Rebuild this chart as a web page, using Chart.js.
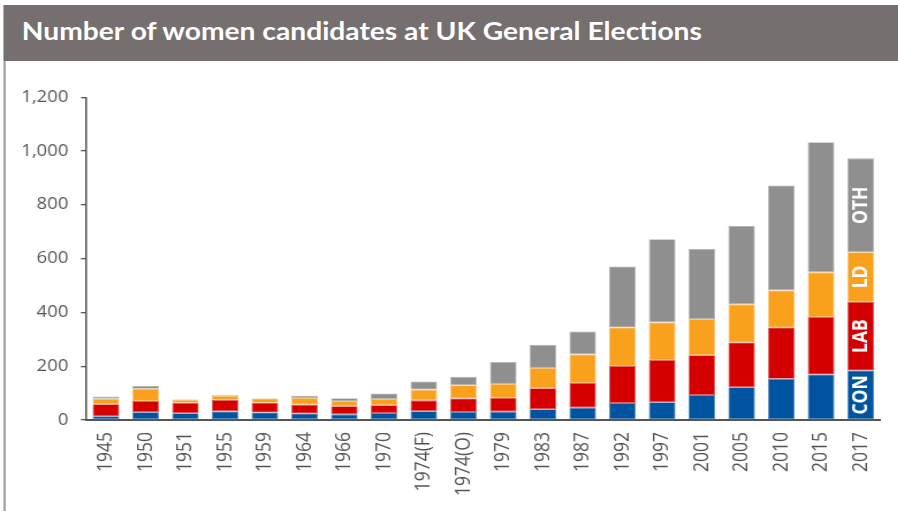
<!DOCTYPE html>
<html>
<head>
<meta charset="utf-8">
<script src="https://cdn.jsdelivr.net/npm/chart.js@4/dist/chart.umd.min.js"></script>
<style>
  html, body { margin: 0; padding: 0; background: #ffffff; overflow: hidden; }
  #stage { position: absolute; left: 0; top: 0; width: 780.87px; height: 511px; transform: scaleX(1.15); transform-origin: 0 0; }
  #titlebar { position: absolute; left: 2.6px; top: 5px; width: 800px; height: 56px; background: #75706f; }
  #title { position: absolute; left: 19px; top: 20px; margin: 0; font-family: "Lato", "Open Sans", sans-serif; font-weight: 700; font-size: 21px; line-height: 1; color: #ffffff; white-space: nowrap; }
  #leftline { position: absolute; left: 2.6px; top: 61px; width: 2.6px; height: 450px; background: #a3a3a3; }
  #chartbox { position: absolute; left: 0; top: 61px; width: 780.87px; height: 450px; }
</style>
</head>
<body>
<div id="stage">
  <div id="titlebar"></div>
  <div id="title">Number of women candidates at UK General Elections</div>
  <div id="leftline"></div>
  <div id="chartbox"><canvas id="c"></canvas></div>
</div>
<script>
// ---- data ----
const categories = ['1945','1950','1951','1955','1959','1964','1966','1970','1974(F)','1974(O)','1979','1983','1987','1992','1997','2001','2005','2010','2015','2017'];
const conValues = [14, 29, 25, 32, 28, 24, 21, 26, 33, 30, 31, 40, 46, 63, 66, 93, 122, 153, 169, 184];
const labValues = [45, 42, 39, 43, 36, 33, 30, 29, 40, 50, 52, 78, 92, 138, 157, 148, 166, 191, 214, 256];
const ldValues  = [20, 45, 11, 14, 16, 25, 20, 23, 40, 49, 51, 75, 106, 143, 140, 135, 142, 138, 166, 184];
const othValues = [8, 10, 2, 3, 1, 8, 10, 21, 30, 32, 82, 87, 85, 227, 309, 260, 291, 390, 484, 349];
const seriesNames = ['CON', 'LAB', 'LD', 'OTH'];
const yTicks = [0, 200, 400, 600, 800, 1000, 1200];

// fit title width to reference
const t = document.getElementById('title');
const targetW = 681 / 1.15;
const fs = 21 * targetW / t.scrollWidth;
t.style.fontSize = fs + 'px';
t.style.top = (41 - 0.9 * fs) + 'px';

const fills = ['#00539f', '#d40000', '#f9a11d', '#8f8f8f'];
const edges = ['#5585bd', '#e05a5a', '#fbc272', '#b4b4b4'];
const seriesData = [conValues, labValues, ldValues, othValues];

const segmentLabels = {
  id: 'segmentLabels',
  afterDatasetsDraw(chart) {
    const ctx = chart.ctx;
    const idx = categories.length - 1;
    ctx.save();
    ctx.fillStyle = '#ffffff';
    ctx.font = 'bold 17.5px "Open Sans", sans-serif';
    ctx.textAlign = 'center';
    ctx.textBaseline = 'middle';
    chart.data.datasets.forEach((ds, i) => {
      const el = chart.getDatasetMeta(i).data[idx];
      const p = el.getProps(['x', 'y', 'base'], true);
      ctx.save();
      ctx.translate(p.x + 0.5, (p.y + p.base) / 2);
      ctx.rotate(-Math.PI / 2);
      ctx.fillText(ds.label, 0, 0);
      ctx.restore();
    });
    ctx.restore();
  }
};

new Chart(document.getElementById('c'), {
  type: 'bar',
  data: {
    labels: categories,
    datasets: seriesNames.map((name, i) => ({
      label: name,
      data: seriesData[i],
      backgroundColor: fills[i],
      borderColor: edges[i],
      borderWidth: 0.8,
      borderSkipped: false,
      categoryPercentage: 1,
      barPercentage: 0.67
    }))
  },
  options: {
    responsive: true,
    maintainAspectRatio: false,
    animation: false,
    layout: { padding: { top: 36.3, right: 13.9, left: 0, bottom: 0 } },
    plugins: { legend: { display: false }, tooltip: { enabled: false }, title: { display: false } },
    scales: {
      x: {
        stacked: true,
        afterFit(s) { s.height = 91; },
        grid: { display: true, drawOnChartArea: false, drawTicks: false },
        border: { display: true, color: '#555555', width: 2 },
        ticks: {
          minRotation: 90, maxRotation: 90, autoSkip: false, padding: 12,
          color: '#555555',
          font: { family: '"Open Sans", sans-serif', size: 17.5 }
        }
      },
      y: {
        stacked: true,
        min: 0, max: 1200,
        afterFit(s) { s.width = 74.78; },
        afterBuildTicks(s) { s.ticks = yTicks.map(v => ({ value: v })); },
        grid: { display: true, drawOnChartArea: false, drawTicks: true, tickLength: 4.5, color: '#555555', lineWidth: 1.3 },
        border: { display: true, color: '#555555', width: 1.5 },
        ticks: {
          padding: 11,
          color: '#555555',
          font: { family: '"Open Sans", sans-serif', size: 16 },
          callback: v => v.toLocaleString('en-GB')
        }
      }
    }
  },
  plugins: [segmentLabels]
});
</script>
</body>
</html>
